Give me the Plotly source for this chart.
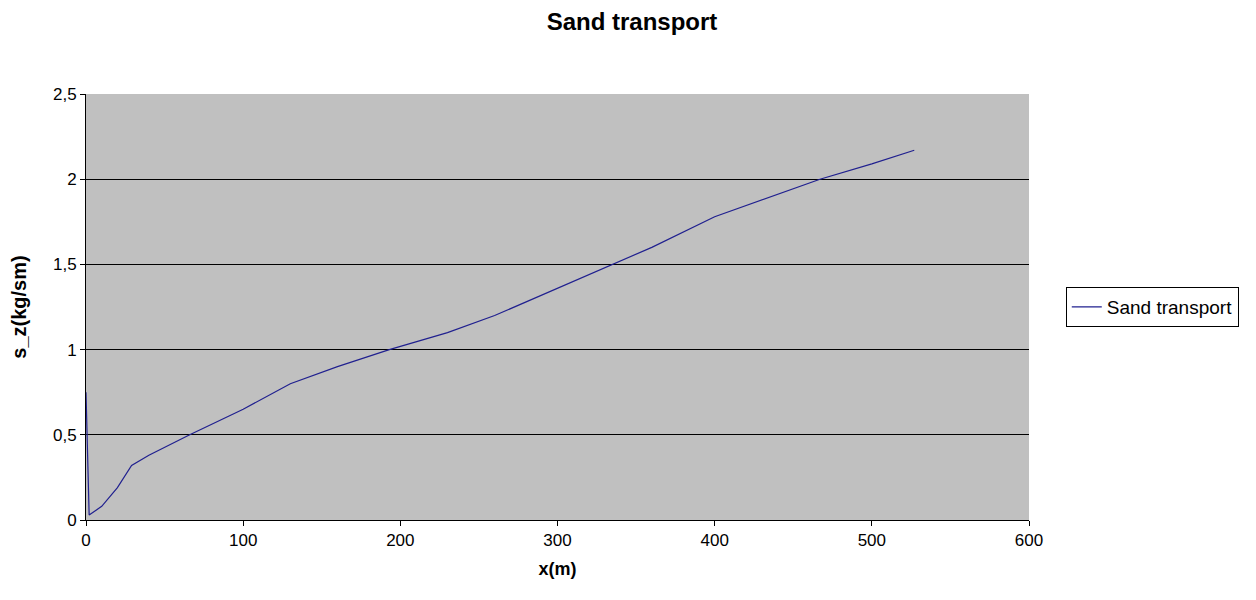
import plotly.graph_objects as go

x_m = [0, 2, 10, 20, 29, 40, 66, 100, 130, 160, 193, 230, 260, 300, 335, 360, 400, 430, 467, 500, 527]
s_z = [0.75, 0.03, 0.08, 0.19, 0.32, 0.38, 0.50, 0.65, 0.80, 0.90, 1.00, 1.10, 1.20, 1.36, 1.50, 1.60, 1.78, 1.88, 2.00, 2.09, 2.17]

x_ticks = [0, 100, 200, 300, 400, 500, 600]
y_ticks = [0, 0.5, 1, 1.5, 2, 2.5]

font = "Liberation Sans, Arial, sans-serif"

fig = go.Figure()
fig.add_trace(go.Scatter(x=x_m, y=s_z, mode="lines", name="Sand transport",
                         line=dict(color="#20208f", width=1.2)))

fig.update_layout(
    width=1256, height=600,
    separators=", ",
    paper_bgcolor="white", plot_bgcolor="#C0C0C0",
    margin=dict(l=78, r=235, t=86, b=88),
    font=dict(family=font, size=17, color="black"),
    title=dict(text="<b>Sand transport</b>", x=0.5 - 4 / 1256, xanchor="center",
               y=1 - 14 / 600, yanchor="middle", yref="container",
               font=dict(size=24, family=font)),
    showlegend=True,
    legend=dict(x=1.039, y=0.5, xanchor="left", yanchor="middle",
                bordercolor="black", borderwidth=1, bgcolor="white",
                font=dict(size=19, family=font), itemwidth=30),
    xaxis=dict(range=[0, 600], tickvals=x_ticks, showgrid=False, zeroline=False,
               showline=True, linecolor="black", linewidth=1, automargin=False,
               ticks="outside", ticklen=5, tickcolor="black",
               tickfont=dict(size=17),
               title=dict(text="<b>x(m)</b>", font=dict(size=18), standoff=12)),
    yaxis=dict(range=[0, 2.5], tickvals=y_ticks, showgrid=True, gridcolor="black", gridwidth=1,
               zeroline=False, showline=True, linecolor="black", linewidth=1, automargin=False,
               ticks="outside", ticklen=5, tickcolor="black",
               tickfont=dict(size=17),
               title=dict(text="<b>s_z(kg/sm)</b>", font=dict(size=20), standoff=22)),
)

fig.write_html("out.html")
